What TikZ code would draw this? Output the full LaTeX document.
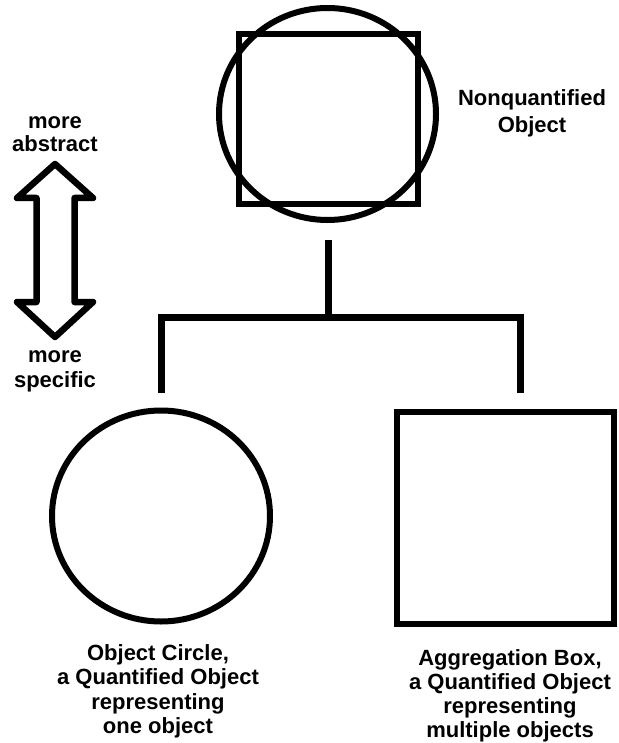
\documentclass[tikz,border=0pt]{standalone}
\usepackage{fontspec}
\setmainfont{Liberation Sans}
\usetikzlibrary{shapes.geometric}
\begin{document}
\begin{tikzpicture}[x=1pt,y=-1pt,
  shapeline/.style={draw=black,line width=6pt},
  conn/.style={draw=black,line width=7pt,line join=miter},
  lbl/.style={align=center,inner sep=0pt,font=\bfseries\fontsize{22}{24.5}\selectfont},
  roundshape/.style={shapeline,ellipse,inner sep=0pt},
  boxshape/.style={shapeline,rectangle,inner sep=0pt}]
\useasboundingbox (0,0) rectangle (618,743);
% top nonquantified object
\node[roundshape,minimum width=217pt,minimum height=212pt] (nq) at (327.5,114) {};
\node[boxshape,minimum width=179pt,minimum height=170pt] (nqbox) at (328.5,119) {};
\node[lbl,font=\bfseries\fontsize{22}{26.5}\selectfont] (nqlbl) at (532,113.5) {Nonquantified\\Object};
% bottom shapes
\node[roundshape,minimum width=218pt,minimum height=211pt] (oc) at (161,516) {};
\node[boxshape,minimum width=217pt,minimum height=212pt] (ab) at (505.5,518) {};
\node[lbl] (oclbl) at (158,691.5) {Object Circle,\\a Quantified Object\\representing\\one object};
\node[lbl,font=\bfseries\fontsize{22}{24}\selectfont] (ablbl) at (510,695.5) {Aggregation Box,\\a Quantified Object\\representing\\multiple objects};
% connectors
\coordinate (stem) at (328,240);
\coordinate (jn) at (328,317);
\coordinate (lft) at (161,393);
\coordinate (rgt) at (520,393);
\draw[conn] (stem) -- (jn);
\draw[conn] (lft) |- (jn) -| (rgt);
% double arrow
\draw[line width=6.5pt,line join=round]
  (55,164) -- (93,198) -- (74.5,198) -- (74.5,302) -- (93,302) -- (55,337)
  -- (17,302) -- (36.5,302) -- (36.5,198) -- (17,198) -- cycle;
\node[lbl,font=\bfseries\fontsize{22}{23.5}\selectfont] (abs) at (55,134) {more\\abstract};
\node[lbl,font=\bfseries\fontsize{22}{25}\selectfont] (spec) at (55,371) {more\\specific};
\end{tikzpicture}
\end{document}
